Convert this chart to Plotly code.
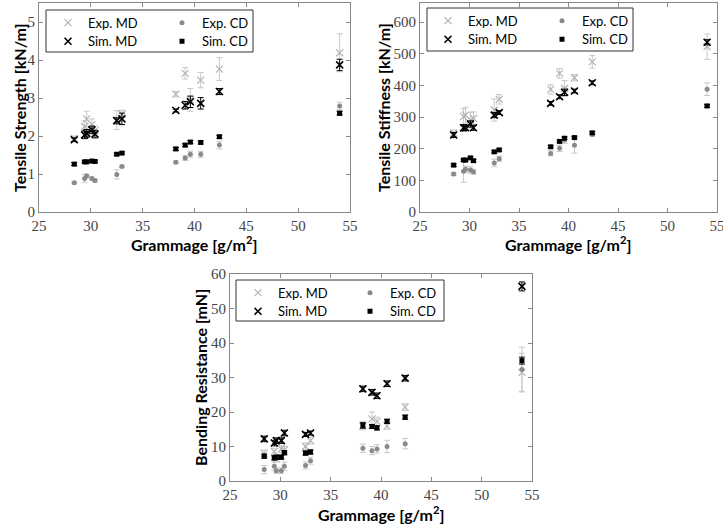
import plotly.graph_objects as go

# ---------------- data ----------------
grammage = [28.4, 29.4, 29.6, 30.1, 30.4, 32.5, 33.0, 38.2, 39.1, 39.6, 40.6, 42.4, 54.0]

# Tensile strength [kN/m]
ts_exp_md = [1.93, 2.25, 2.45, 2.30, 2.15, 2.42, 2.58, 3.10, 3.65, 2.95, 3.47, 3.76, 4.19]
ts_exp_md_err = [0.07, 0.15, 0.20, 0.15, 0.12, 0.25, 0.10, 0.07, 0.15, 0.30, 0.20, 0.30, 0.50]
ts_exp_cd = [0.77, 0.88, 0.95, 0.88, 0.83, 0.99, 1.20, 1.31, 1.42, 1.52, 1.52, 1.76, 2.79]
ts_exp_cd_err = [0.03, 0.10, 0.05, 0.04, 0.04, 0.12, 0.03, 0.03, 0.06, 0.08, 0.08, 0.10, 0.10]
ts_sim_md = [1.90, 2.03, 2.07, 2.16, 2.05, 2.40, 2.45, 2.67, 2.81, 2.90, 2.86, 3.17, 3.87]
ts_sim_md_err = [0.05, 0.10, 0.10, 0.10, 0.10, 0.08, 0.15, 0.04, 0.10, 0.15, 0.15, 0.08, 0.15]
ts_sim_cd = [1.26, 1.32, 1.32, 1.34, 1.33, 1.52, 1.55, 1.66, 1.76, 1.84, 1.83, 1.98, 2.60]
ts_sim_cd_err = [0.04, 0.03, 0.03, 0.03, 0.03, 0.03, 0.03, 0.04, 0.04, 0.04, 0.04, 0.04, 0.05]

# Tensile stiffness [kN/m]
st_exp_md = [249, 301, 306, 290, 296, 322, 356, 387, 438, 390, 424, 474, 522]
st_exp_md_err = [10, 25, 25, 25, 20, 35, 15, 15, 15, 25, 10, 20, 40]
st_exp_cd = [120, 129, 135, 133, 127, 155, 168, 185, 201, 227, 211, 245, 388]
st_exp_cd_err = [5, 35, 10, 10, 8, 12, 8, 8, 10, 10, 25, 5, 20]
st_sim_md = [243, 266, 266, 278, 266, 306, 314, 343, 364, 378, 382, 408, 536]
st_sim_md_err = [8, 10, 8, 10, 8, 8, 6, 6, 6, 10, 6, 6, 8]
st_sim_cd = [148, 164, 164, 171, 162, 190, 196, 206, 223, 233, 235, 250, 335]
st_sim_cd_err = [4, 4, 4, 4, 4, 4, 4, 4, 4, 4, 4, 4, 4]

# Bending resistance [mN]
br_exp_md = [8.0, 8.5, 6.5, 9.3, 9.0, 10.0, 11.7, 16.0, 18.0, 17.3, 16.0, 21.4, 31.5]
br_exp_md_err = [1.0, 1.0, 1.0, 1.0, 1.0, 1.0, 1.0, 1.2, 2.0, 1.2, 1.0, 1.0, 5.5]
br_exp_cd = [3.3, 4.3, 3.0, 3.0, 4.3, 4.5, 5.9, 9.5, 8.8, 9.3, 10.0, 10.8, 32.3]
br_exp_cd_err = [1.2, 1.2, 0.8, 0.8, 1.2, 1.0, 1.0, 1.2, 1.2, 1.2, 1.8, 1.5, 6.5]
br_sim_md = [12.2, 11.0, 11.7, 11.7, 13.9, 13.5, 13.9, 26.7, 25.7, 24.7, 28.2, 29.8, 56.4]
br_sim_md_err = [0.8, 0.8, 0.8, 0.8, 0.8, 0.6, 0.6, 0.8, 0.8, 0.8, 0.8, 0.8, 1.3]
br_sim_cd = [7.2, 6.7, 6.9, 6.9, 8.2, 8.1, 8.4, 16.1, 15.8, 15.4, 17.3, 18.5, 34.9]
br_sim_cd_err = [0.6, 0.6, 0.6, 0.6, 0.6, 0.6, 0.6, 0.8, 0.6, 0.6, 0.6, 0.6, 1.0]

x_ticks = [25, 30, 35, 40, 45, 50, 55]
names = ["Exp. MD", "Exp. CD", "Sim. MD", "Sim. CD"]

W, H = 723, 526

fig = go.Figure()

EXP_MD_C = "#b4b4b4"
EXP_CD_C = "#8a8a8a"
EXP_ERR_C = "#c8c8c8"


def add_panel(ax, legs, exp_md, exp_md_err, exp_cd, exp_cd_err, sim_md, sim_md_err, sim_cd, sim_cd_err):
    xa = "x" if ax == 1 else f"x{ax}"
    ya = "y" if ax == 1 else f"y{ax}"
    common = dict(x=grammage, mode="markers", xaxis=xa, yaxis=ya, hoverinfo="skip")
    fig.add_trace(go.Scatter(
        y=exp_md, name=names[0], legend=legs[0], **common,
        marker=dict(symbol="x-thin", size=7, line=dict(color=EXP_MD_C, width=1.2), color=EXP_MD_C),
        error_y=dict(type="data", array=exp_md_err, color=EXP_ERR_C, thickness=1, width=3)))
    fig.add_trace(go.Scatter(
        y=exp_cd, name=names[1], legend=legs[1], **common,
        marker=dict(symbol="circle", size=5, color=EXP_CD_C),
        error_y=dict(type="data", array=exp_cd_err, color=EXP_ERR_C, thickness=1, width=3)))
    fig.add_trace(go.Scatter(
        y=sim_md, name=names[2], legend=legs[2], **common,
        marker=dict(symbol="x-thin", size=7, line=dict(color="black", width=1.6), color="black"),
        error_y=dict(type="data", array=sim_md_err, color="black", thickness=1, width=3)))
    fig.add_trace(go.Scatter(
        y=sim_cd, name=names[3], legend=legs[3], **common,
        marker=dict(symbol="square", size=5, color="black"),
        error_y=dict(type="data", array=sim_cd_err, color="black", thickness=1, width=3)))


leg_ids = [["legend", "legend2", "legend3", "legend4"],
           ["legend5", "legend6", "legend7", "legend8"],
           ["legend9", "legend10", "legend11", "legend12"]]

add_panel(1, leg_ids[0], ts_exp_md, ts_exp_md_err, ts_exp_cd, ts_exp_cd_err,
          ts_sim_md, ts_sim_md_err, ts_sim_cd, ts_sim_cd_err)
add_panel(2, leg_ids[1], st_exp_md, st_exp_md_err, st_exp_cd, st_exp_cd_err,
          st_sim_md, st_sim_md_err, st_sim_cd, st_sim_cd_err)
add_panel(3, leg_ids[2], br_exp_md, br_exp_md_err, br_exp_cd, br_exp_cd_err,
          br_sim_md, br_sim_md_err, br_sim_cd, br_sim_cd_err)

tickfont = dict(family="Liberation Serif", size=15, color="#444")
axis_common = dict(showline=True, linecolor="#888", linewidth=1, mirror="ticks", ticks="inside",
                   ticklen=4, tickcolor="#888", showgrid=False, zeroline=False, tickfont=tickfont,
                   automargin=False, ticklabeloverflow="allow")


def px_x(a, b):
    return [a / W, b / W]


def px_y(top, bottom):
    return [1 - bottom / H, 1 - top / H]


layout = dict(
    template="none",
    width=W, height=H, margin=dict(l=0, r=0, t=0, b=0, autoexpand=False),
    paper_bgcolor="white", plot_bgcolor="white",
    xaxis=dict(domain=px_x(39, 350), range=[25, 55], tickvals=x_ticks, anchor="y", **axis_common),
    yaxis=dict(domain=px_y(3, 212), range=[0, 5.5], dtick=1, anchor="x", **axis_common),
    xaxis2=dict(domain=px_x(420, 717), range=[25, 55], tickvals=x_ticks, anchor="y2", **axis_common),
    yaxis2=dict(domain=px_y(3, 212), range=[0, 660], dtick=100, anchor="x2", **axis_common),
    xaxis3=dict(domain=px_x(230, 532), range=[25, 55], tickvals=x_ticks, anchor="y3", **axis_common),
    yaxis3=dict(domain=px_y(274, 481), range=[0, 60], dtick=10, anchor="x3", **axis_common),
    showlegend=True,
)

leg_common = dict(orientation="v", xanchor="left", yanchor="top", bgcolor="rgba(0,0,0,0)",
                  borderwidth=0, font=dict(family="Lato", size=13, color="black"),
                  itemwidth=30, tracegroupgap=0, itemclick=False, itemdoubleclick=False)

# legend boxes (pixel coords): left, top, right, bottom, text-start col1, text-start col2
boxes = [
    (46, 10, 253, 52, 88, 202),
    (427, 8, 633, 51, 468, 582),
    (236, 280, 444, 321, 278, 390),
]
for (l, t, r, b, c1, c2), legs in zip(boxes, leg_ids):
    fig.add_shape(type="rect", xref="paper", yref="paper", x0=l / W, x1=r / W, y0=1 - b / H, y1=1 - t / H,
                  line=dict(color="#333", width=1), fillcolor="white", layer="above")
    row1 = t + 10.7 - 13
    row2 = t + 29.3 - 13
    layout[legs[0]] = dict(x=(c1 - 40) / W, y=1 - row1 / H, **leg_common)
    layout[legs[1]] = dict(x=(c2 - 40) / W, y=1 - row1 / H, **leg_common)
    layout[legs[2]] = dict(x=(c1 - 40) / W, y=1 - row2 / H, **leg_common)
    layout[legs[3]] = dict(x=(c2 - 40) / W, y=1 - row2 / H, **leg_common)

fig.update_layout(**layout)

title_font = dict(family="Lato", size=16, color="black")
ann = [
    dict(text="<b>Tensile Strength [kN/m]</b>", x=20 / W, y=1 - 108 / H, textangle=-90),
    dict(text="<b>Tensile Stiffness [kN/m]</b>", x=384 / W, y=1 - 108 / H, textangle=-90),
    dict(text="<b>Bending Resistance [mN]</b>", x=200 / W, y=1 - 378 / H, textangle=-90),
    dict(text="<b>Grammage [g/m<sup>2</sup>]</b>", x=194 / W, y=1 - 244 / H),
    dict(text="<b>Grammage [g/m<sup>2</sup>]</b>", x=568 / W, y=1 - 244 / H),
    dict(text="<b>Grammage [g/m<sup>2</sup>]</b>", x=381 / W, y=1 - 513 / H),
]
for a in ann:
    fig.add_annotation(xref="paper", yref="paper", showarrow=False, font=title_font,
                       xanchor="center", yanchor="middle", **a)

fig.write_html("out.html", config={"displayModeBar": False},
               post_script="document.body.style.margin='0';document.body.style.overflow='hidden';")
